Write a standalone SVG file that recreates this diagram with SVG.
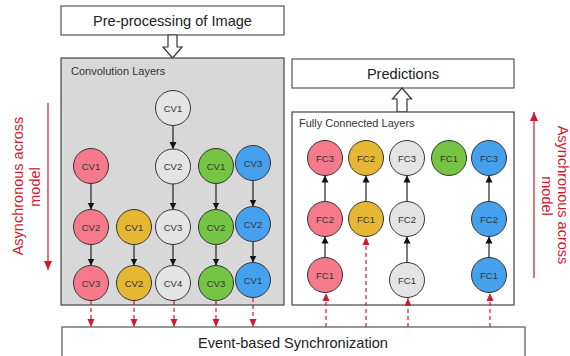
<svg xmlns="http://www.w3.org/2000/svg" width="570" height="356" viewBox="0 0 570 356">
<defs>
<style>
text{font-family:"Liberation Sans",Arial,Helvetica,sans-serif;}
.box{fill:#fff;stroke:#555;stroke-width:1.2;}
.title{font-size:14.6px;fill:#222;text-anchor:middle;}
.lbl{font-size:11px;fill:#333;}
.n{stroke:#333;stroke-width:1;}
.nt{font-size:9.5px;fill:#333;text-anchor:middle;dominant-baseline:central;}
.pink{fill:#f67a8b;}
.yellow{fill:#e5b733;}
.gray{fill:#e4e4e4;}
.green{fill:#76c443;}
.blue{fill:#45a1ee;}
.ar{stroke:#222;stroke-width:1.2;fill:none;marker-end:url(#ah);}
.rd{stroke:#d0182f;stroke-width:1.2;fill:none;stroke-dasharray:4 3;marker-end:url(#rh);}
.rl{stroke:#d0182f;stroke-width:1.2;fill:none;marker-end:url(#rh2);}
.red{font-size:14.5px;fill:#d0182f;text-anchor:middle;}
.hollow{fill:#fff;stroke:#333;stroke-width:1.2;}
</style>
<marker id="ah" markerWidth="8" markerHeight="8" refX="7" refY="4" orient="auto" markerUnits="userSpaceOnUse"><path d="M0,0.5 L7,4 L0,7.5 Z" fill="#111"/></marker>
<marker id="rh" markerWidth="9" markerHeight="9" refX="8" refY="4" orient="auto" markerUnits="userSpaceOnUse"><path d="M0,0.5 L8,4 L0,7.5 Z" fill="#d0182f"/></marker>
<marker id="rh2" markerWidth="10" markerHeight="10" refX="9" refY="4.5" orient="auto" markerUnits="userSpaceOnUse"><path d="M0,0.5 L9,4.5 L0,8.5 Z" fill="#d0182f"/></marker>
</defs>

<g id="preprocessing">
<rect class="box" x="61" y="6" width="223" height="29"/>
<text class="title" x="172.5" y="26">Pre-processing of Image</text>
</g>
<path class="hollow" d="M168,35 L177,35 L177,47 L182,47 L172.5,58 L163,47 L168,47 Z"/>

<g id="conv-layers">
<rect x="61" y="58" width="223" height="247" fill="#d8d8d8" stroke="#444" stroke-width="1.2"/>
<text class="lbl" x="71" y="75">Convolution Layers</text>
</g>

<g id="predictions">
<rect class="box" x="292" y="59" width="222" height="29"/>
<text class="title" x="403" y="79">Predictions</text>
</g>
<path class="hollow" d="M397,112 L407,112 L407,99 L411.5,99 L402,88 L392.5,99 L397,99 Z"/>

<g id="fc-layers">
<rect x="292" y="112" width="222" height="193" fill="#fff" stroke="#444" stroke-width="1.2"/>
<text class="lbl" x="299" y="127">Fully Connected Layers</text>
</g>

<g id="sync">
<rect class="box" x="62" y="327" width="463" height="40"/>
<text class="title" x="293" y="348">Event-based Synchronization</text>
</g>

<g id="connectors">
<line class="ar" x1="91" y1="183.5" x2="91" y2="209.5"/>
<line class="ar" x1="91" y1="244.5" x2="91" y2="265.5"/>
<line class="ar" x1="134" y1="244.5" x2="134" y2="265.5"/>
<line class="ar" x1="173" y1="125.5" x2="173" y2="149"/>
<line class="ar" x1="173" y1="184" x2="173" y2="209.5"/>
<line class="ar" x1="173" y1="244.5" x2="173" y2="265.5"/>
<line class="ar" x1="216" y1="183.5" x2="216" y2="209.5"/>
<line class="ar" x1="216" y1="244.5" x2="216" y2="265.5"/>
<line class="ar" x1="253" y1="180.5" x2="253" y2="206.5"/>
<line class="ar" x1="253" y1="241.5" x2="253" y2="262.5"/>
<line class="ar" x1="325" y1="257.5" x2="325" y2="236.5"/>
<line class="ar" x1="325" y1="201.5" x2="325" y2="175.5"/>
<line class="ar" x1="366" y1="201.5" x2="366" y2="175.5"/>
<line class="ar" x1="407" y1="262.5" x2="407" y2="236.5"/>
<line class="ar" x1="407" y1="201.5" x2="407" y2="175.5"/>
<line class="ar" x1="489" y1="257.5" x2="489" y2="236.5"/>
<line class="ar" x1="489" y1="201.5" x2="489" y2="175.5"/>
<line class="rd" x1="91" y1="301" x2="91" y2="327"/>
<line class="rd" x1="134" y1="301" x2="134" y2="327"/>
<line class="rd" x1="174" y1="301" x2="174" y2="327"/>
<line class="rd" x1="216" y1="301" x2="216" y2="327"/>
<line class="rd" x1="253" y1="298" x2="253" y2="327"/>
<line class="rd" x1="326" y1="327" x2="326" y2="293"/>
<line class="rd" x1="366" y1="327" x2="366" y2="237"/>
<line class="rd" x1="408" y1="327" x2="408" y2="298"/>
<line class="rd" x1="490" y1="327" x2="490" y2="293"/>
<line class="rl" x1="48" y1="103" x2="48" y2="270"/>
<line class="rl" x1="534" y1="278" x2="534" y2="112"/>
</g>

<g id="cv-gray-1"><circle class="n gray" cx="173" cy="108" r="17.5"/><text class="nt" x="173" y="108">CV1</text></g>
<g id="cv-pink-1"><circle class="n pink" cx="91" cy="166" r="17.5"/><text class="nt" x="91" y="166">CV1</text></g>
<g id="cv-gray-2"><circle class="n gray" cx="173" cy="166.5" r="17.5"/><text class="nt" x="173" y="166.5">CV2</text></g>
<g id="cv-green-1"><circle class="n green" cx="216" cy="166" r="17.5"/><text class="nt" x="216" y="166">CV1</text></g>
<g id="cv-blue-3"><circle class="n blue" cx="253" cy="163" r="17.5"/><text class="nt" x="253" y="163">CV3</text></g>
<g id="cv-pink-2"><circle class="n pink" cx="91" cy="227" r="17.5"/><text class="nt" x="91" y="227">CV2</text></g>
<g id="cv-yellow-1"><circle class="n yellow" cx="134" cy="227" r="17.5"/><text class="nt" x="134" y="227">CV1</text></g>
<g id="cv-gray-3"><circle class="n gray" cx="173" cy="227" r="17.5"/><text class="nt" x="173" y="227">CV3</text></g>
<g id="cv-green-2"><circle class="n green" cx="216" cy="227" r="17.5"/><text class="nt" x="216" y="227">CV2</text></g>
<g id="cv-blue-2"><circle class="n blue" cx="253" cy="224" r="17.5"/><text class="nt" x="253" y="224">CV2</text></g>
<g id="cv-pink-3"><circle class="n pink" cx="91" cy="283" r="17.5"/><text class="nt" x="91" y="283">CV3</text></g>
<g id="cv-yellow-2"><circle class="n yellow" cx="134" cy="283" r="17.5"/><text class="nt" x="134" y="283">CV2</text></g>
<g id="cv-gray-4"><circle class="n gray" cx="173" cy="283" r="17.5"/><text class="nt" x="173" y="283">CV4</text></g>
<g id="cv-green-3"><circle class="n green" cx="216" cy="283" r="17.5"/><text class="nt" x="216" y="283">CV3</text></g>
<g id="cv-blue-1"><circle class="n blue" cx="253" cy="280" r="17.5"/><text class="nt" x="253" y="280">CV1</text></g>

<g id="fc-pink-3"><circle class="n pink" cx="325" cy="158" r="17.5"/><text class="nt" x="325" y="158">FC3</text></g>
<g id="fc-yellow-2"><circle class="n yellow" cx="366" cy="158" r="17.5"/><text class="nt" x="366" y="158">FC2</text></g>
<g id="fc-gray-3"><circle class="n gray" cx="407" cy="158" r="17.5"/><text class="nt" x="407" y="158">FC3</text></g>
<g id="fc-green-1"><circle class="n green" cx="449" cy="158" r="17.5"/><text class="nt" x="449" y="158">FC1</text></g>
<g id="fc-blue-3"><circle class="n blue" cx="489" cy="158" r="17.5"/><text class="nt" x="489" y="158">FC3</text></g>
<g id="fc-pink-2"><circle class="n pink" cx="325" cy="219" r="17.5"/><text class="nt" x="325" y="219">FC2</text></g>
<g id="fc-yellow-1"><circle class="n yellow" cx="366" cy="219" r="17.5"/><text class="nt" x="366" y="219">FC1</text></g>
<g id="fc-gray-2"><circle class="n gray" cx="407" cy="219" r="17.5"/><text class="nt" x="407" y="219">FC2</text></g>
<g id="fc-blue-2"><circle class="n blue" cx="489" cy="219" r="17.5"/><text class="nt" x="489" y="219">FC2</text></g>
<g id="fc-pink-1"><circle class="n pink" cx="325" cy="275" r="17.5"/><text class="nt" x="325" y="275">FC1</text></g>
<g id="fc-gray-1"><circle class="n gray" cx="407" cy="280" r="17.5"/><text class="nt" x="407" y="280">FC1</text></g>
<g id="fc-blue-1"><circle class="n blue" cx="489" cy="275" r="17.5"/><text class="nt" x="489" y="275">FC1</text></g>

<g id="left-label">
<text class="red" transform="translate(23,186) rotate(-90)">Asynchronous across</text>
<text class="red" transform="translate(40,187) rotate(-90)">model</text>
</g>
<g id="right-label">
<text class="red" transform="translate(558,195) rotate(90)">Asynchronous across</text>
<text class="red" transform="translate(542,196) rotate(90)">model</text>
</g>
</svg>
